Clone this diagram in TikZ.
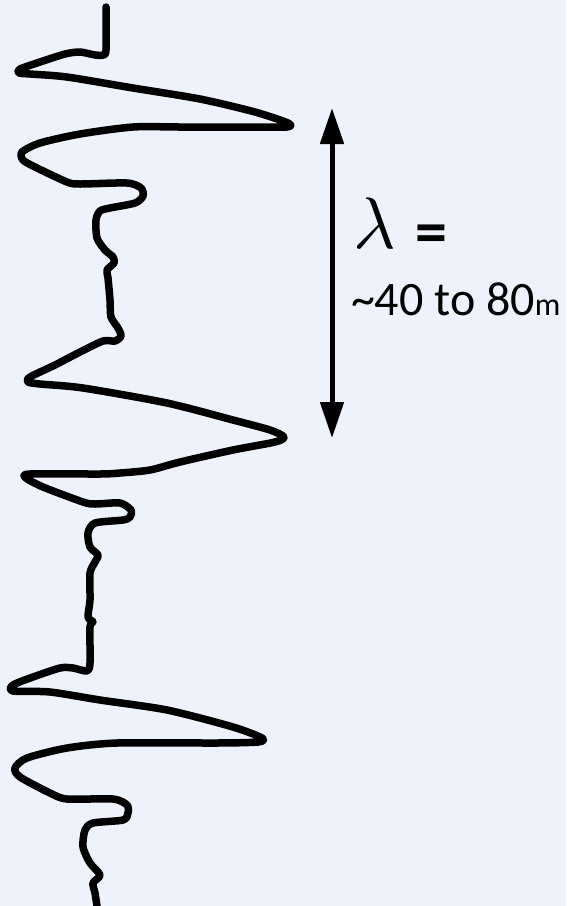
\documentclass[tikz,border=0pt]{standalone}
\usepackage{fontspec}
\usepackage{graphicx}
\usepackage{amsmath}
\setmainfont{Carlito}
\usetikzlibrary{arrows.meta}
\definecolor{bg}{HTML}{EEF3FB}
\tikzset{
  trace/.style={line width=7.5pt, line cap=round, line join=round, black},
  dimarrow/.style={line width=5pt, {Triangle[length=36pt,width=23pt]}-{Triangle[length=36pt,width=23pt]}},
  lbl/.style={inner sep=0pt, outer sep=0pt}
}
\begin{document}
\begin{tikzpicture}[x=1pt,y=-1pt]
\fill[bg] (0,0) rectangle (566,906);
\useasboundingbox (0,0) rectangle (566,906);
% seismic trace
\draw[trace] plot[smooth, tension=0.45] coordinates {
(106,7) (106,50) (103,55) (95,55) (80,52) (65,54) (40,62) (20,69) (19,73) (30,74)
(67,77) (133,88) (200,99) (255,112) (288,123) (287,127) (250,127) (180,127) (133,127)
(80,134) (40,143) (22,152) (23,160) (35,167) (67,182) (80,184) (127,183) (141,188)
(143,196) (135,203) (110,208) (100,211) (96,220) (97,238) (105,250) (113,257) (114,263)
(107,270) (108,278) (110,300) (111,317) (118,328) (121,336) (115,341) (103,341)
(80,352) (55,365) (30,377) (28,382) (40,384) (83,388) (167,403) (233,420) (270,430)
(284,437) (275,442) (233,450) (180,462) (150,470) (120,473) (100,474) (30,474)
(26,478) (43,487) (83,502) (95,504) (120,503) (131,510) (130,517) (123,520) (95,523)
(88,533) (90,547) (98,555) (95,562) (90,573) (90,600) (88,617) (93,622) (90,627)
(90,663) (87,671) (73,668) (60,668) (33,677) (13,685) (13,691) (50,692) (100,700)
(167,710) (233,727) (262,738) (258,742) (217,743) (117,743) (67,748) (27,758)
(15,768) (20,777) (50,793) (67,799) (113,799) (127,805) (128,813) (123,820) (93,823)
(85,830) (83,847) (90,863) (100,875) (93,883) (95,893) (97,906)
};
% wavelength arrow
\coordinate (atop) at (332,108);
\coordinate (abot) at (332,438);
\draw[dimarrow] (atop) -- (abot);
% labels
\node[lbl, anchor=base west] (lam) at (353,248) {\scalebox{7.3}{$\lambda$}};
\node[lbl, anchor=base west, font=\fontsize{64}{64}\selectfont\bfseries] (eq) at (415,253) {=};
\node[lbl, anchor=base west, font=\fontsize{48}{48}\selectfont] (rng) at (351,315) {{\char`\~}40 to 80{\fontsize{32}{32}\selectfont m}};
\end{tikzpicture}
\end{document}
